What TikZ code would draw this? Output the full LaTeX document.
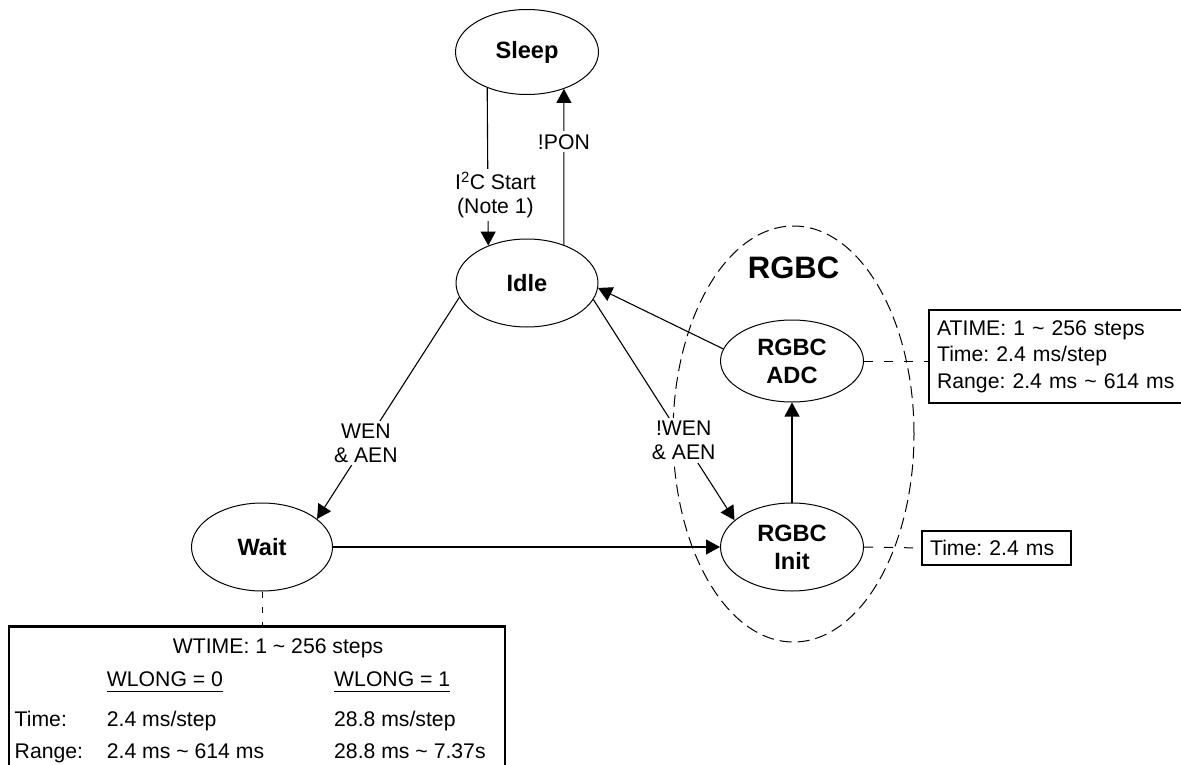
\documentclass[tikz,border=0pt]{standalone}
\usepackage{fontspec}
\setmainfont{Liberation Sans}
\frenchspacing
\usetikzlibrary{shapes.geometric,arrows.meta}
\begin{document}
\frenchspacing
\begin{tikzpicture}[x=1pt,y=-1pt,
  state/.style={ellipse, draw, line width=1pt, inner sep=0pt, align=center,
    font=\fontsize{23.6}{28}\selectfont\bfseries},
  txt/.style={inner sep=0pt, font=\fontsize{21.2}{24}\selectfont},
  lbl/.style={txt, fill=white, align=center, inner sep=3pt},
  arr/.style={line width=1.1pt, -{Triangle[length=14pt,width=15pt]}},
  note/.style={line width=1pt, dash pattern=on 9pt off 11pt},
  box/.style={draw, line width=2.2pt}]
\clip (0,0) rectangle (1181,765);
\fill[white] (0,0) rectangle (1181,765);
% group ellipse
\node[ellipse, draw, line width=1pt, dash pattern=on 12pt off 6pt, inner sep=0pt,
  minimum width=241, minimum height=416] (group) at (793.5,434) {};
\node[font=\fontsize{31}{36}\selectfont\bfseries, inner sep=0pt] (grouplbl) at (793.5,268) {RGBC};
% states
\node[state, minimum width=143, minimum height=85] (sleep) at (527,52) {Sleep};
\node[state, minimum width=142, minimum height=88] (idle) at (527,283) {Idle};
\node[state, minimum width=141, minimum height=88] (wait) at (262,547) {Wait};
\node[state, minimum width=143, minimum height=82] (adc) at (792,361) {RGBC\\ADC};
\node[state, minimum width=143, minimum height=88] (init) at (792,547) {RGBC\\Init};
% transitions
\draw[arr] (sleep.222.4) -- (idle.136.7)
  node[lbl, pos=0.68, xshift=7.5pt] (l1) {I\textsuperscript{2}C Start\\(Note 1)};
\draw[arr] (idle.46.5) -- (sleep.-45.5) node[lbl, pos=0.66] (l2) {!PON};
\draw[arr] (idle.192.9) -- (wait.27.4) node[lbl, pos=0.657] (l3) {WEN\\\& AEN};
\draw[arr] (idle.-14.8) -- (init.155.2) node[lbl, pos=0.64] (l4) {!WEN\\\& AEN};
\draw[arr] (adc.170) -- (idle.-4);
\draw[arr] (init.north) -- (adc.south);
\draw[arr] (wait.east) -- (init.west);
% note boxes
\node[box, anchor=north west, minimum height=92.5, text width=252, inner xsep=8pt,
  inner ysep=0pt, align=left, font=\fontsize{21.2}{26.5}\selectfont] (atime) at (928,309)
  {ATIME: 1 \textasciitilde{} 256 steps\\Time: 2.4 ms/step\\Range: 2.4 ms \textasciitilde{} 614 ms};
\node[box, anchor=west, minimum height=34, text width=133, inner xsep=8pt,
  inner ysep=0pt, align=left, font=\fontsize{21.2}{24}\selectfont] (tbox) at (921,548) {Time: 2.4 ms};
\node[box, anchor=north west, minimum width=496, minimum height=170, inner sep=0pt] (wbox) at (7.6,625.4) {};
\draw[note] (adc.east) -- (adc.east -| atime.west);
\draw[note] (init.east) -- (tbox.west);
\draw[line width=1pt, dash pattern=on 6pt off 9pt] (wait.south) -- (wait.south |- wbox.north);
% WTIME contents
\node[txt, anchor=base] (wt) at (278,653) {WTIME: 1 \textasciitilde{} 256 steps};
\node[txt, anchor=base west] (wl0) at (106.7,686.4) {WLONG = 0};
\node[txt, anchor=base west] (wl1) at (334,686.4) {WLONG = 1};
\draw[line width=1pt] ([yshift=-5pt]wl0.base west) -- ([yshift=-5pt]wl0.base east);
\draw[line width=1pt] ([yshift=-5pt]wl1.base west) -- ([yshift=-5pt]wl1.base east);
\node[txt, anchor=base west] (tl) at (14.5,726) {Time:};
\node[txt, anchor=base west] (t0) at (106.7,726) {2.4 ms/step};
\node[txt, anchor=base west] (t1) at (334,726) {28.8 ms/step};
\node[txt, anchor=base west] (rl) at (14.5,758.6) {Range:};
\node[txt, anchor=base west] (r0) at (106.7,758.6) {2.4 ms \textasciitilde{} 614 ms};
\node[txt, anchor=base west] (r1) at (334,758.6) {28.8 ms \textasciitilde{} 7.37s};
\end{tikzpicture}
\end{document}
